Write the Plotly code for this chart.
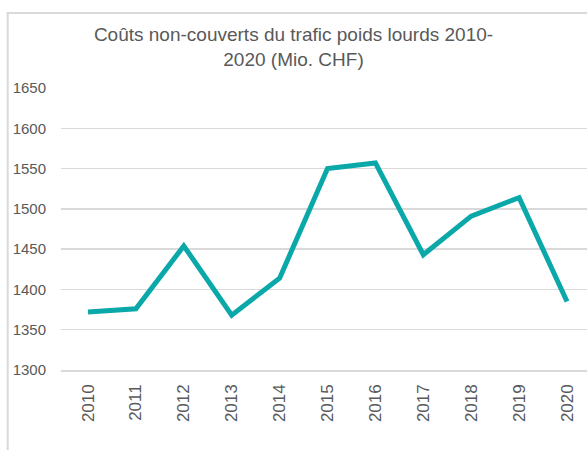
import plotly.graph_objects as go

years = [2010, 2011, 2012, 2013, 2014, 2015, 2016, 2017, 2018, 2019, 2020]
costs = [1372, 1376, 1454, 1368, 1414, 1550, 1557, 1443, 1491, 1514, 1385]
year_labels = [str(y) for y in years]
y_ticks = [1300, 1350, 1400, 1450, 1500, 1550, 1600, 1650]

W, H = 587, 450
L, R, T, B = 61, 0, 88, 80
pw = W - L - R
ph = H - T - B

fig = go.Figure()
fig.add_trace(go.Scatter(
    x=years, y=costs, mode="lines",
    line=dict(color="#0AA8A9", width=5),
    hoverinfo="skip",
))

# x range so 2010 sits at px 88 and 2020 at px 567
step = (567 - 88) / 10
x0 = 2010 - (88 - L) / step
x1 = x0 + pw / step

bx = 7.7
by = 13.0

fig.update_layout(
    width=W, height=H,
    margin=dict(l=L, r=R, t=T, b=B),
    paper_bgcolor="white", plot_bgcolor="white",
    showlegend=False,
    font=dict(family="Liberation Sans, Arial, sans-serif", color="#595959"),
    title=dict(
        text="Coûts non-couverts du trafic poids lourds 2010-<br>2020 (Mio. CHF)",
        x=293.5 / W, xanchor="center", xref="container",
        y=1 - 41 / H, yanchor="top", yref="container",
        font=dict(size=19, color="#595959"),
    ),
    xaxis=dict(
        range=[x0, x1], tickvals=years, ticktext=year_labels,
        tickangle=-90, showgrid=False, zeroline=False,
        showline=True, linecolor="#d9d9d9", linewidth=1.5,
        ticks="", tickfont=dict(size=17, color="#595959"),
        ticklabelstandoff=6,
    ),
    yaxis=dict(
        range=[1300, 1650], tickvals=y_ticks,
        showgrid=True, gridcolor="#d9d9d9", gridwidth=1.3,
        zeroline=False, showline=False, ticks="",
        tickfont=dict(size=15, color="#595959"),
        ticklabelstandoff=14,
    ),
    shapes=[
        dict(type="line", xref="paper", yref="paper",
             x0=(bx - L) / pw, x1=(bx - L) / pw,
             y0=(H - B - by + 1) / ph, y1=-B / ph - 0.01,
             line=dict(color="#d9d9d9", width=2)),
        dict(type="line", xref="paper", yref="paper",
             x0=(bx - 1 - L) / pw, x1=1.01,
             y0=(H - B - by) / ph, y1=(H - B - by) / ph,
             line=dict(color="#d9d9d9", width=2)),
    ],
)

fig.write_html("out.html",
               config={"displayModeBar": False, "staticPlot": True},
               post_script="document.body.style.margin='0';document.body.style.overflow='hidden';")
